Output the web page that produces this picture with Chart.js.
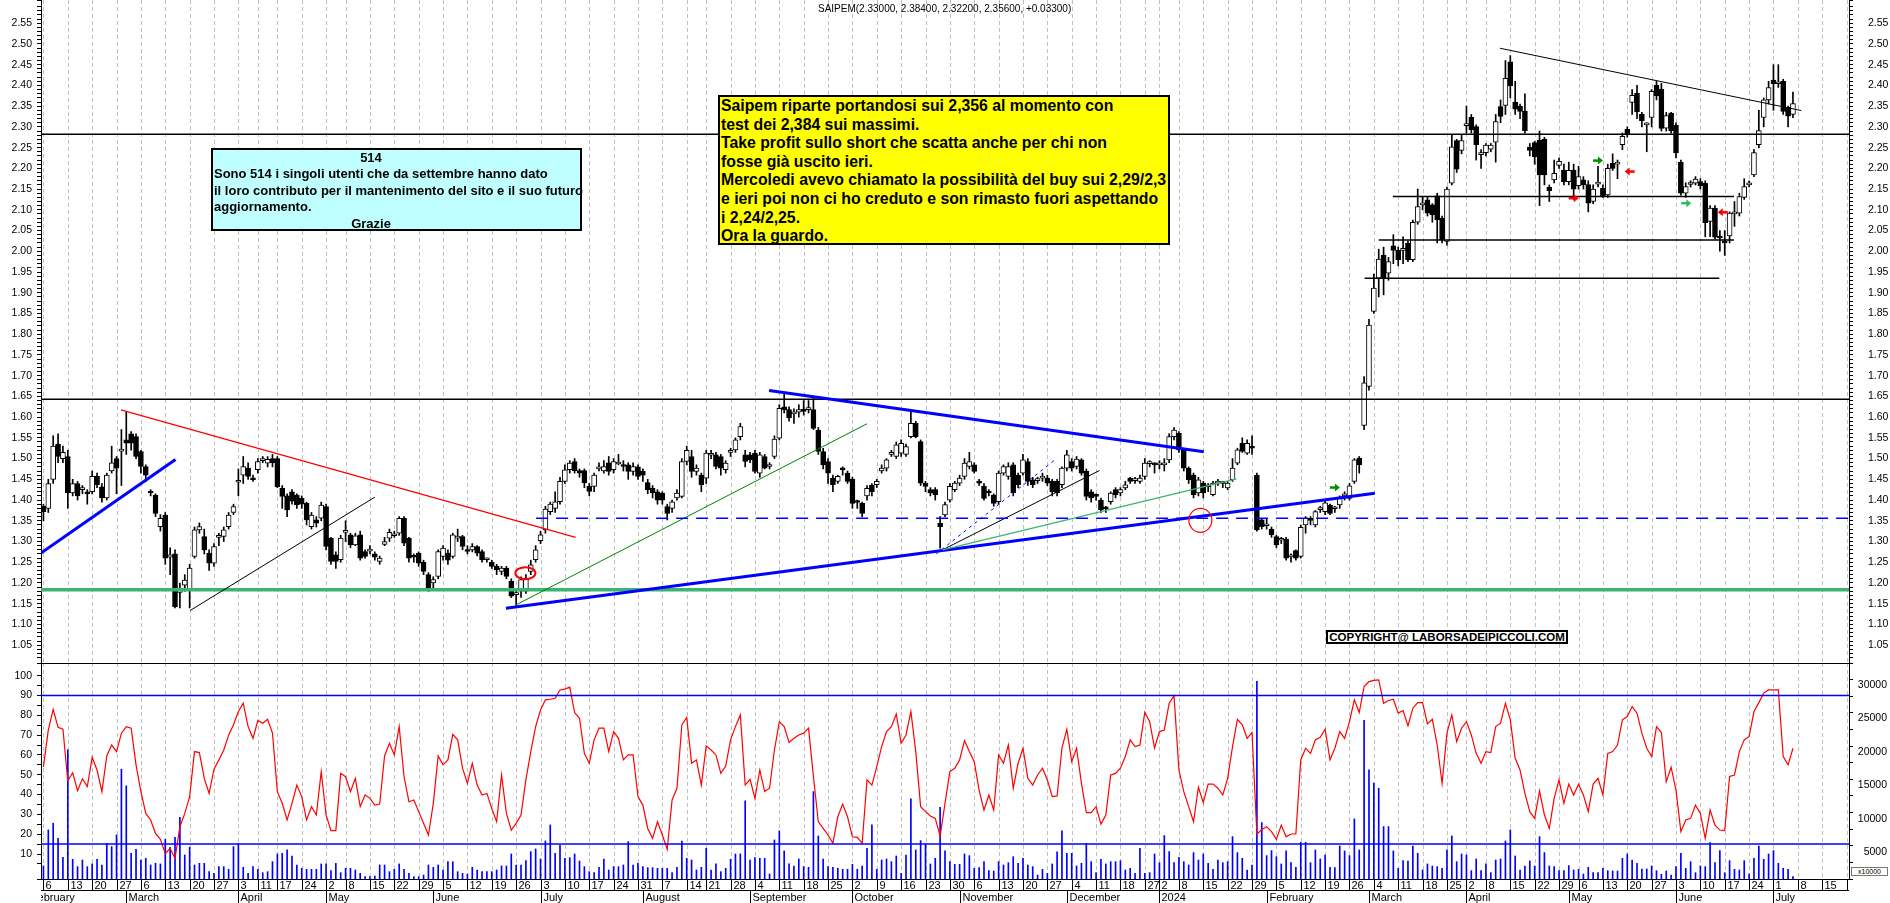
<!DOCTYPE html>
<html>
<head>
<meta charset="utf-8">
<script src="https://cdn.jsdelivr.net/npm/chart.js@4.4.1/dist/chart.umd.min.js"></script>
<style>
  body { margin: 0; background: #fff; }
  #wrap { position: relative; width: 1890px; height: 903px; overflow: hidden; font-family: 'Liberation Sans', Arial, sans-serif; color: #000; }
  #priceChart { position: absolute; left: 0; top: 0; width: 1890px; height: 663px; }
  #oscChart { position: absolute; left: 0; top: 663px; width: 1890px; height: 240px; }
  .title { position: absolute; left: 818px; top: 3px; font-size: 10px; line-height: 12px; white-space: nowrap; }
  .note { position: absolute; border: 2px solid #000; box-sizing: border-box; white-space: nowrap; }
  .cyan { left: 211px; top: 148px; width: 371px; height: 83px; background: #c0ffff; font: bold 13px 'Liberation Sans', Arial, sans-serif; line-height: 16.4px; padding-left: 1px; }
  .cyan .c { text-align: center; padding-right: 52px; }
  .yellow { left: 718px; top: 95px; width: 452px; height: 150px; background: #ffff00; font: bold 15.8px 'Liberation Sans', Arial, sans-serif; line-height: 18.6px; padding-left: 1px; }
  .copy { left: 1326px; top: 630px; width: 242px; height: 14px; background: #fff; font: bold 11.5px 'Liberation Sans', Arial, sans-serif; line-height: 10px; text-align: center; }
  .unit { position: absolute; left: 1851px; top: 867px; width: 37px; height: 9px; border: 1px solid #777; box-sizing: border-box; font-size: 7px; line-height: 7px; text-align: center; background: #fff; }
</style>
</head>
<body>
<div id="wrap">
  <canvas id="priceChart" width="1890" height="663"></canvas>
  <canvas id="oscChart" width="1890" height="240"></canvas>
  <div class="title">SAIPEM(2.33000, 2.38400, 2.32200, 2.35600, +0.03300)</div>
  <div class="note cyan">
    <div class="c">514</div>
    <div>Sono 514 i singoli utenti che da settembre hanno dato</div>
    <div>il loro contributo per il mantenimento del sito e il suo futuro</div>
    <div>aggiornamento.</div>
    <div class="c">Grazie</div>
  </div>
  <div class="note yellow">
    <div>Saipem riparte portandosi sui 2,356 al momento con</div>
    <div>test dei 2,384 sui massimi.</div>
    <div>Take profit sullo short che scatta anche per chi non</div>
    <div>fosse già uscito ieri.</div>
    <div>Mercoledi avevo chiamato la possibilità del buy sui 2,29/2,3</div>
    <div>e ieri poi non ci ho creduto e son rimasto fuori aspettando</div>
    <div>i 2,24/2,25.</div>
    <div>Ora la guardo.</div>
  </div>
  <div class="note copy">COPYRIGHT@ LABORSADEIPICCOLI.COM</div>
  <div class="unit">x10000</div>
</div>

<script>
// trading calendar (Borsa Italiana), first session 6 Feb 2023, axis runs to 22 Jul 2024
const FIRST_DAY = '2023-02-06';
const LAST_DAY = '2024-07-22';
const HOLIDAYS = ['2023-04-07', '2023-04-10', '2023-05-01', '2023-08-15', '2023-12-25', '2023-12-26',
                  '2024-01-01', '2024-03-29', '2024-04-01', '2024-05-01'];
const MONTHS = ['January', 'February', 'March', 'April', 'May', 'June', 'July', 'August', 'September', 'October', 'November', 'December'];
const VOL_TICKS = [5000, 10000, 15000, 20000, 25000, 30000];

// daily candles, SAIPEM
const OPEN = [
  1.385,1.38,1.45,1.535,1.50,1.505,1.417,1.44,1.425,1.42,
  1.42,1.457,1.432,1.405,1.47,1.50,1.518,1.545,1.56,1.553,
  1.517,1.481,1.42,1.412,1.336,1.364,1.262,1.27,1.177,1.195,
  1.184,1.264,1.328,1.312,1.272,1.248,1.31,1.312,1.336,1.37,
  1.443,1.46,1.477,1.453,1.473,1.495,1.489,1.50,1.50,1.428,
  1.41,1.42,1.412,1.404,1.392,1.336,1.352,1.356,1.384,1.308,
  1.268,1.256,1.322,1.316,1.292,1.316,1.276,1.277,1.27,1.252,
  1.293,1.308,1.314,1.32,1.356,1.308,1.265,1.272,1.25,1.22,
  1.20,1.216,1.264,1.272,1.264,1.308,1.312,1.28,1.28,1.288,
  1.276,1.256,1.25,1.24,1.228,1.236,1.204,1.172,1.18,1.18,
  1.228,1.256,1.302,1.328,1.372,1.38,1.396,1.445,1.473,1.493,
  1.471,1.471,1.433,1.433,1.475,1.47,1.49,1.473,1.487,1.485,
  1.485,1.469,1.48,1.47,1.442,1.428,1.42,1.417,1.384,1.38,
  1.405,1.409,1.493,1.505,1.469,1.46,1.453,1.508,1.509,1.505,
  1.473,1.515,1.521,1.553,1.509,1.509,1.513,1.465,1.505,1.481,
  1.505,1.549,1.625,1.618,1.608,1.612,1.618,1.618,1.618,1.569,
  1.517,1.493,1.453,1.445,1.475,1.465,1.45,1.397,1.392,1.41,
  1.436,1.437,1.47,1.477,1.51,1.505,1.513,1.51,1.553,1.585,
  1.541,1.441,1.425,1.425,1.344,1.364,1.40,1.425,1.441,1.457,
  1.481,1.485,1.443,1.433,1.419,1.412,1.396,1.465,1.457,1.485,
  1.46,1.465,1.493,1.449,1.447,1.453,1.453,1.445,1.445,1.437,
  1.477,1.493,1.481,1.497,1.469,1.42,1.411,1.40,1.382,1.396,
  1.425,1.417,1.429,1.453,1.447,1.445,1.457,1.488,1.489,1.485,
  1.485,1.497,1.553,1.561,1.521,1.477,1.46,1.417,1.441,1.432,
  1.413,1.441,1.442,1.429,1.449,1.489,1.537,1.513,1.529,1.46,
  1.352,1.338,1.33,1.312,1.303,1.306,1.263,1.278,1.264,1.34,
  1.353,1.34,1.377,1.372,1.388,1.379,1.388,1.41,1.404,1.445,
  1.501,1.58,1.674,1.855,1.935,1.991,1.947,2.013,2.002,2.002,
  2.02,1.98,2.07,2.112,2.124,2.112,2.134,2.08,2.024,2.164,
  2.267,2.243,2.303,2.323,2.301,2.233,2.238,2.246,2.263,2.349,
  2.352,2.457,2.36,2.35,2.338,2.251,2.262,2.268,2.27,2.154,
  2.172,2.207,2.196,2.168,2.196,2.158,2.172,2.161,2.12,2.162,
  2.152,2.136,2.212,2.21,2.257,2.294,2.359,2.381,2.331,2.305,
  2.323,2.40,2.391,2.297,2.333,2.304,2.215,2.14,2.161,2.164,
  2.168,2.164,2.072,2.104,2.034,2.022,2.037,2.09,2.092,2.13,
  2.16,2.184,2.257,2.323,2.365,2.413,2.404,2.41,2.347,2.33
];
const HIGH = [
  1.39,1.45,1.555,1.56,1.53,1.52,1.45,1.445,1.435,1.425,
  1.47,1.465,1.44,1.465,1.53,1.505,1.57,1.612,1.565,1.56,
  1.52,1.485,1.425,1.415,1.365,1.37,1.285,1.28,1.20,1.22,
  1.245,1.335,1.345,1.33,1.28,1.295,1.32,1.335,1.37,1.39,
  1.475,1.505,1.49,1.46,1.50,1.505,1.505,1.51,1.505,1.435,
  1.415,1.425,1.415,1.41,1.395,1.37,1.36,1.395,1.39,1.31,
  1.275,1.315,1.35,1.32,1.32,1.325,1.28,1.29,1.275,1.265,
  1.31,1.33,1.325,1.36,1.36,1.31,1.27,1.275,1.255,1.225,
  1.215,1.28,1.29,1.28,1.32,1.33,1.315,1.29,1.295,1.29,
  1.28,1.26,1.255,1.245,1.24,1.24,1.21,1.18,1.215,1.22,
  1.255,1.29,1.325,1.385,1.395,1.42,1.455,1.485,1.495,1.50,
  1.475,1.475,1.44,1.465,1.49,1.495,1.505,1.50,1.51,1.495,
  1.49,1.49,1.485,1.475,1.45,1.435,1.425,1.42,1.39,1.40,
  1.425,1.50,1.53,1.52,1.485,1.465,1.52,1.52,1.515,1.51,
  1.495,1.525,1.55,1.585,1.52,1.515,1.52,1.515,1.51,1.49,
  1.555,1.63,1.658,1.625,1.62,1.63,1.64,1.64,1.645,1.575,
  1.525,1.50,1.46,1.46,1.48,1.47,1.455,1.40,1.395,1.435,
  1.44,1.45,1.485,1.50,1.52,1.54,1.545,1.535,1.617,1.59,
  1.545,1.445,1.43,1.43,1.36,1.395,1.44,1.445,1.46,1.50,
  1.515,1.49,1.45,1.44,1.425,1.415,1.47,1.485,1.49,1.49,
  1.465,1.51,1.50,1.455,1.455,1.465,1.46,1.45,1.45,1.48,
  1.52,1.50,1.505,1.50,1.475,1.425,1.415,1.405,1.385,1.42,
  1.43,1.43,1.445,1.455,1.455,1.46,1.50,1.495,1.49,1.495,
  1.50,1.56,1.575,1.565,1.525,1.48,1.465,1.455,1.445,1.44,
  1.445,1.45,1.445,1.445,1.50,1.525,1.55,1.545,1.555,1.465,
  1.355,1.355,1.335,1.315,1.31,1.31,1.27,1.28,1.34,1.36,
  1.36,1.375,1.385,1.40,1.39,1.385,1.41,1.42,1.44,1.50,
  1.505,1.698,1.836,1.945,2.005,2.01,1.985,2.04,2.01,2.035,
  2.025,2.075,2.15,2.13,2.13,2.115,2.14,2.085,2.155,2.28,
  2.27,2.28,2.35,2.33,2.305,2.245,2.26,2.26,2.33,2.365,
  2.46,2.472,2.41,2.355,2.38,2.26,2.265,2.29,2.275,2.16,
  2.22,2.225,2.21,2.215,2.21,2.205,2.18,2.17,2.16,2.205,
  2.16,2.21,2.235,2.22,2.285,2.30,2.39,2.40,2.335,2.31,
  2.39,2.41,2.405,2.335,2.335,2.31,2.22,2.165,2.17,2.18,
  2.175,2.17,2.11,2.11,2.05,2.05,2.095,2.12,2.14,2.175,
  2.17,2.245,2.34,2.37,2.41,2.45,2.45,2.415,2.35,2.384
];
const LOW = [
  1.35,1.37,1.44,1.49,1.49,1.38,1.41,1.40,1.415,1.39,
  1.415,1.43,1.395,1.40,1.465,1.415,1.435,1.51,1.52,1.50,
  1.465,1.445,1.41,1.36,1.325,1.245,1.22,1.14,1.14,1.18,
  1.14,1.26,1.32,1.27,1.23,1.24,1.29,1.30,1.33,1.365,
  1.41,1.44,1.45,1.445,1.465,1.49,1.48,1.48,1.43,1.38,
  1.36,1.39,1.38,1.38,1.34,1.33,1.335,1.35,1.28,1.245,
  1.235,1.25,1.30,1.285,1.29,1.255,1.26,1.27,1.255,1.245,
  1.29,1.30,1.31,1.315,1.29,1.25,1.25,1.24,1.22,1.18,
  1.185,1.21,1.255,1.245,1.26,1.30,1.28,1.27,1.275,1.265,
  1.25,1.25,1.235,1.22,1.22,1.21,1.165,1.146,1.165,1.175,
  1.22,1.25,1.295,1.32,1.365,1.37,1.39,1.44,1.465,1.465,
  1.455,1.43,1.41,1.42,1.47,1.465,1.46,1.465,1.485,1.47,
  1.45,1.46,1.45,1.445,1.415,1.405,1.39,1.39,1.352,1.37,
  1.40,1.405,1.485,1.455,1.46,1.42,1.44,1.50,1.475,1.46,
  1.465,1.505,1.515,1.545,1.48,1.49,1.465,1.455,1.475,1.475,
  1.50,1.545,1.61,1.59,1.585,1.60,1.605,1.61,1.57,1.51,
  1.475,1.44,1.42,1.44,1.46,1.44,1.38,1.38,1.36,1.40,
  1.41,1.43,1.465,1.47,1.505,1.50,1.505,1.505,1.55,1.55,
  1.435,1.42,1.41,1.40,1.284,1.36,1.395,1.42,1.435,1.45,
  1.475,1.465,1.435,1.40,1.41,1.385,1.39,1.46,1.45,1.41,
  1.43,1.46,1.435,1.43,1.44,1.445,1.435,1.41,1.41,1.43,
  1.47,1.47,1.475,1.46,1.40,1.395,1.40,1.37,1.37,1.39,
  1.405,1.41,1.425,1.44,1.44,1.44,1.45,1.48,1.465,1.475,
  1.47,1.49,1.545,1.515,1.47,1.44,1.405,1.41,1.405,1.42,
  1.41,1.435,1.43,1.425,1.445,1.485,1.515,1.51,1.51,1.325,
  1.33,1.33,1.31,1.285,1.295,1.255,1.25,1.255,1.26,1.32,
  1.34,1.335,1.37,1.365,1.365,1.37,1.38,1.40,1.40,1.44,
  1.465,1.57,1.665,1.85,1.89,1.895,1.93,1.97,1.965,1.97,
  1.975,1.975,2.065,2.10,2.085,2.07,2.02,2.02,2.015,2.16,
  2.19,2.235,2.285,2.285,2.22,2.20,2.23,2.24,2.215,2.31,
  2.33,2.37,2.33,2.32,2.285,2.23,2.21,2.11,2.16,2.12,
  2.165,2.20,2.16,2.16,2.125,2.15,2.15,2.095,2.115,2.155,
  2.13,2.13,2.195,2.175,2.245,2.275,2.33,2.32,2.30,2.24,
  2.30,2.365,2.29,2.29,2.285,2.225,2.135,2.13,2.155,2.16,
  2.15,2.035,2.035,2.03,2.00,1.99,2.02,2.06,2.085,2.125,
  2.155,2.18,2.25,2.30,2.355,2.34,2.395,2.33,2.30,2.322
];
const CLOSE = [
  1.372,1.44,1.53,1.505,1.515,1.417,1.44,1.41,1.428,1.415,
  1.457,1.437,1.405,1.46,1.49,1.477,1.522,1.537,1.537,1.505,
  1.481,1.46,1.417,1.368,1.356,1.26,1.268,1.143,1.184,1.207,
  1.236,1.328,1.336,1.28,1.248,1.288,1.315,1.328,1.364,1.384,
  1.445,1.481,1.457,1.449,1.493,1.497,1.498,1.49,1.432,1.409,
  1.376,1.397,1.388,1.39,1.352,1.364,1.344,1.388,1.288,1.252,
  1.252,1.308,1.326,1.292,1.314,1.26,1.264,1.279,1.262,1.26,
  1.30,1.322,1.317,1.356,1.296,1.26,1.262,1.248,1.228,1.188,
  1.208,1.276,1.284,1.255,1.316,1.311,1.288,1.276,1.288,1.272,
  1.256,1.258,1.24,1.232,1.236,1.216,1.168,1.175,1.208,1.212,
  1.244,1.28,1.316,1.378,1.39,1.396,1.445,1.473,1.489,1.471,
  1.465,1.442,1.421,1.46,1.477,1.481,1.469,1.493,1.49,1.481,
  1.469,1.481,1.457,1.46,1.425,1.417,1.40,1.40,1.368,1.396,
  1.417,1.493,1.52,1.469,1.477,1.437,1.513,1.511,1.481,1.477,
  1.489,1.517,1.545,1.577,1.493,1.497,1.469,1.509,1.477,1.483,
  1.547,1.621,1.618,1.598,1.612,1.618,1.614,1.622,1.573,1.517,
  1.485,1.465,1.437,1.457,1.473,1.445,1.392,1.394,1.368,1.428,
  1.42,1.445,1.477,1.497,1.513,1.533,1.537,1.529,1.585,1.553,
  1.441,1.433,1.417,1.413,1.336,1.389,1.433,1.441,1.453,1.489,
  1.493,1.469,1.441,1.404,1.417,1.392,1.465,1.481,1.481,1.417,
  1.437,1.497,1.445,1.437,1.449,1.458,1.441,1.42,1.417,1.477,
  1.509,1.477,1.499,1.465,1.409,1.405,1.409,1.376,1.379,1.417,
  1.413,1.425,1.437,1.445,1.45,1.453,1.489,1.49,1.485,1.489,
  1.49,1.553,1.569,1.521,1.477,1.449,1.413,1.449,1.417,1.434,
  1.441,1.445,1.44,1.441,1.477,1.521,1.517,1.537,1.525,1.328,
  1.336,1.341,1.316,1.292,1.305,1.26,1.265,1.26,1.334,1.356,
  1.351,1.372,1.379,1.393,1.368,1.381,1.404,1.412,1.434,1.497,
  1.485,1.683,1.822,1.911,1.981,1.935,1.975,2.002,1.98,2.005,
  1.98,2.07,2.108,2.114,2.092,2.088,2.076,2.028,2.15,2.252,
  2.198,2.267,2.305,2.293,2.257,2.236,2.256,2.256,2.313,2.325,
  2.417,2.399,2.343,2.337,2.291,2.243,2.228,2.184,2.184,2.146,
  2.188,2.217,2.168,2.195,2.15,2.18,2.16,2.116,2.15,2.165,
  2.134,2.20,2.20,2.214,2.277,2.283,2.376,2.336,2.315,2.307,
  2.386,2.375,2.296,2.327,2.291,2.237,2.14,2.156,2.163,2.174,
  2.158,2.069,2.104,2.034,2.032,2.02,2.092,2.093,2.132,2.156,
  2.162,2.238,2.291,2.365,2.395,2.404,2.407,2.337,2.326,2.356
];

// lower panel: oscillator (left scale) and volume (right scale, x10000)
const OSC = [
  54,72.6,83,74,73,47,51,42,48,44,
  58.8,52.4,41.5,59.5,65,61.7,71,74.3,73.5,55,
  41.5,30.5,27.2,20.4,17.4,10.3,12.8,7.8,23.8,30.5,
  39,61.7,61.2,48.2,40.6,52.8,57.5,62.5,70,75.2,
  81.9,86.1,74.3,68.4,77.4,76,78,71,41.5,35.6,
  27.2,35.6,44.8,39,27.2,33.9,29.7,51.6,29.7,21.8,
  21.8,50.7,49,41.5,48.2,33.9,39.8,38.1,34.7,35.2,
  59.5,65.9,60,74.3,49,36.4,37.3,31.4,25.5,19.6,
  35.6,59.5,55,57.5,70.4,67.6,53.3,45.7,55.8,44.8,
  39.8,40.6,33,26.3,49.9,30.5,22.1,25.5,29.7,47.4,
  61.7,74.3,82.7,87.8,88.1,88.6,92.8,93.2,94.2,81.4,
  78.5,60.8,55.8,67.6,73.5,73.5,61.7,71.8,68.4,57.5,
  60,60,39,34.7,22.9,17.9,26.3,19.6,12.3,37.3,
  43.2,75.2,78.9,55.8,57.5,44.8,64.6,62.5,60,50.7,
  54.4,67.6,74.3,80.2,44.8,47.7,38.1,52.4,41.5,43.2,
  62.5,76.8,74.3,66.3,68.4,70.1,71,73.5,49.1,26.3,
  22.9,19.6,15.4,28.8,35.2,28.8,18.7,18.4,15.4,47.4,
  44.8,54.1,64.2,71.8,74.3,80.7,65.9,70.1,81.9,61.7,
  33.9,31.4,29.2,28,19.1,35.6,51.6,53.3,57.5,67.3,
  61.7,56.6,42.3,32.2,39.8,32.2,60,55.8,65,43.2,
  55.8,63.4,48.2,44.8,49.9,53.3,47.4,39,39.3,63.4,
  73,56.6,63.4,45.7,30.9,30.9,33.9,25.1,29.7,49.9,
  50.7,53.3,59.2,67.6,64.2,65,81.6,76.8,63.4,71.8,
  72.6,86.1,89.8,52.4,41.5,33.9,26.3,43.7,35.9,45.3,
  45.3,43.2,39.8,48.2,64.2,78,75.2,68.4,71.3,20,
  22.4,23.8,21.3,17.4,24.6,18.7,20.1,20.1,57.5,63.4,
  60.8,67.6,68.9,73,57.5,63.4,71.8,68.4,76.8,87.8,
  81.4,94.5,97,97.6,97.9,86.1,87.5,88.1,81.1,82.4,
  74.7,83.6,86.4,86.4,75.7,78,65,45.7,71,80.2,
  66.7,73.5,76.8,70.1,60.8,55.8,61.7,61.2,74.3,76,
  86.1,77.7,58.3,52.4,40.6,31.4,28,41.8,29.7,22.9,
  38.1,47.4,35.6,45.3,39.8,45.2,39.8,31.4,45.3,48.2,
  39.8,60.8,61.7,65,77.7,79.4,84.4,81.1,71,63.4,
  59.2,74.3,71.3,46.5,53.8,42.3,21.3,27.2,28,34.7,
  30.5,17.9,32.2,24.6,22.1,21.8,49.1,49.9,61.7,67.6,
  69.3,81.9,86.4,91.2,92.8,92.8,92.8,59.2,55,63.4
];
const VOLUME = [
  2960,8335,9330,7090,4250,20290,3950,2860,3850,2860,
  3260,3950,3110,6340,5845,7590,17400,14910,4850,5450,
  3850,4100,3110,3360,3260,6940,5750,7240,10230,4600,
  5750,3110,3360,3360,2110,1860,2860,2860,2460,5845,
  6340,2760,1860,2860,2460,1960,2110,3600,4750,4850,
  5350,4450,3110,2610,2460,2460,2460,3260,3260,2260,
  3360,1960,2610,2610,2360,1860,1360,1360,1460,3110,
  3110,2110,2460,3260,2460,1860,1360,1360,1610,3110,
  2760,3110,2360,3600,3600,2110,1860,1760,2760,2360,
  2110,2110,2110,2360,2960,2960,4750,3110,3110,3750,
  5100,5500,4000,6690,9080,4850,6040,4100,4200,4750,
  3700,2860,2110,1960,2760,4000,2360,2860,2860,3110,
  6590,3110,3360,2860,2710,2710,2610,2610,2610,1960,
  2760,6690,4100,3850,2360,2760,5600,2360,3260,2110,
  2610,3950,4750,4750,12670,3850,4200,4100,4100,1760,
  6840,8190,5200,3260,2960,4000,2860,2760,14060,7440,
  4000,2860,2760,2610,2460,2460,3210,2460,2960,5600,
  9080,2460,3850,4000,3600,4450,1860,4600,12970,5350,
  6740,6240,3260,4100,11720,5200,3600,3210,3210,4750,
  4500,2610,2710,3600,2260,2210,3600,3110,3450,4350,
  3360,4100,3110,2860,1610,2460,1860,3260,5050,8190,
  4850,4850,2960,3360,6340,3600,1960,3950,3260,3600,
  3600,3750,2360,2610,1860,5600,1860,1960,4750,3450,
  7490,5100,3450,4250,3600,3110,4950,3850,4750,3360,
  2460,3850,3450,3600,7340,4950,4100,2360,3110,30500,
  9430,4500,5250,4350,3260,5200,3450,2760,6490,6490,
  3450,5350,4000,4600,2760,2710,5940,5200,4500,9980,
  5350,24670,17300,15310,14560,8830,8830,5200,2610,3750,
  3700,5940,4850,2360,3260,2960,2860,2610,5350,7440,
  3600,4750,4600,2260,4000,2260,3260,1960,3850,4000,
  6690,8340,4450,2360,2960,3700,2960,7340,4950,2960,
  2860,2260,2260,3010,2360,2460,1760,2760,1960,1960,
  2610,2260,2210,2210,4100,4750,3850,3360,2510,2510,
  2960,2260,1710,2210,1610,2860,4850,2610,3600,1960,
  2960,2860,6440,3450,5250,1960,3750,2460,2360,3750,
  1760,4100,5940,3950,4750,5250,3360,2610,2460,1360
];

// drawn studies, in (session index, price) coordinates
const LEVELS = [[2.282, 'level'], [1.643, 'level'], [1.1835, 'support']];
const TRENDS = [
  [-0.5, 1.272, 27.1, 1.498, 'blue'],
  [15.9, 1.6175, 109.2, 1.3097, 'red'],
  [30.1, 1.1336, 68.0, 1.407, 'black'],
  [97.0, 1.1473, 169.0, 1.584, 'green'],
  [94.9, 1.1393, 273.2, 1.4166, 'blue'],
  [148.9, 1.664, 238.1, 1.5163, 'blue'],
  [183.2, 1.2702, 208.0, 1.501, 'bluedot'],
  [184.5, 1.2799, 216.7, 1.4712, 'black'],
  [184.5, 1.28, 244.8, 1.4511, 'seagreen'],
  [101.1, 1.356, 370.5, 1.356, 'bluedash'],
  [298.9, 2.4896, 360.7, 2.3393, 'black'],
  [276.9, 2.132, 346.9, 2.132, 'segment'],
  [274.0, 2.0274, 346.9, 2.0274, 'segment'],
  [271.1, 1.935, 343.9, 1.935, 'segment']
];
const RINGS = [[98.9, 1.2236, 10, 6, 2], [237.4, 1.351, 11.5, 12, 1.2]];
const ARROWS = [
  [319.0, 2.2187, 1, '#009000'], [325.5, 2.1922, -1, '#ff0000'], [314.0, 2.128, 1, '#ff0000'],
  [337.1, 2.116, 1, '#33bb66'], [344.6, 2.094, -1, '#ff0000'], [265.0, 1.4302, 1, '#009000']
];
const OSC_BANDS = [90, 15];

const LINE_STYLES = {
  level: { color: '#000000', width: 1.5 },
  support: { color: '#3cb371', width: 3.5 },
  black: { color: '#000000', width: 1 },
  segment: { color: '#000000', width: 1.5 },
  blue: { color: '#0000ff', width: 3 },
  red: { color: '#ff0000', width: 1.3 },
  green: { color: '#008000', width: 1 },
  seagreen: { color: '#3cb371', width: 1.2 },
  bluedot: { color: '#0000ff', width: 1, dash: [3, 4] },
  bluedash: { color: '#0000ff', width: 1.5, dash: [12, 8] },
  week: { color: '#c0c0c0', width: 1, dash: [4, 3] }
};

// build the session list from the calendar
const days = [];
(function () {
  const d = new Date(FIRST_DAY + 'T00:00:00Z');
  const end = new Date(LAST_DAY + 'T00:00:00Z');
  while (d <= end) {
    const key = d.toISOString().slice(0, 10);
    const dow = d.getUTCDay();
    if (dow > 0 && dow < 6 && !HOLIDAYS.includes(key)) days.push(key);
    d.setUTCDate(d.getUTCDate() + 1);
  }
})();
const toDate = s => new Date(s + 'T00:00:00Z');
const weekStart = days.map((s, i) => {
  if (i === 0) return true;
  const a = toDate(days[i - 1]), b = toDate(s);
  return b.getUTCDay() <= a.getUTCDay() || (b - a) >= 7 * 864e5;
});
const monthStart = days.map((s, i) => i === 0 || s.slice(5, 7) !== days[i - 1].slice(5, 7));

Chart.defaults.font.family = "'Liberation Sans', Arial, sans-serif";
Chart.defaults.font.size = 10.5;
Chart.defaults.color = '#000';

const fixWidth = w => s => { s.width = w; s.paddingTop = 0; s.paddingBottom = 0; };
const isStep = (v, step) => Math.abs(v / step - Math.round(v / step)) < 1e-6;

function xScale(height) {
  return {
    offset: true,
    ticks: { display: false, autoSkip: false },
    grid: { display: false },
    border: { display: false },
    afterFit: s => { s.height = height; s.paddingLeft = 0; s.paddingRight = 0; }
  };
}
function yScale(pos, min, max, step, label, pad) {
  return {
    position: pos, min: min, max: max,
    ticks: { stepSize: step, autoSkip: false, padding: pad, callback: label },
    grid: { drawOnChartArea: false, tickLength: 4, tickColor: '#000' },
    border: { color: '#000', width: 1 },
    afterFit: fixWidth(41)
  };
}

const priceLabel = v => (isStep(v, 0.05) && v > 1.04 && v < 2.56) ? v.toFixed(2) : '';

function strokeLine(ctx, x1, y1, x2, y2, st) {
  ctx.save();
  ctx.strokeStyle = st.color; ctx.lineWidth = st.width;
  ctx.setLineDash(st.dash || []);
  ctx.beginPath(); ctx.moveTo(x1, y1); ctx.lineTo(x2, y2); ctx.stroke();
  ctx.restore();
}

// weekly dashed grid, one line per first session of the week
const weekGrid = {
  id: 'weekGrid',
  beforeDatasetsDraw(chart) {
    const { ctx, chartArea: a, scales: { x } } = chart;
    days.forEach((s, i) => {
      if (!weekStart[i]) return;
      const px = Math.round(x.getPixelForValue(i)) + 0.5;
      strokeLine(ctx, px, a.top, px, a.bottom, LINE_STYLES.week);
    });
  }
};

const priceOverlay = {
  id: 'priceOverlay',
  afterDatasetsDraw(chart) {
    const { ctx, chartArea: a, scales: { x, y } } = chart;
    ctx.save();
    ctx.beginPath(); ctx.rect(a.left, a.top, a.right - a.left, a.bottom - a.top); ctx.clip();
    LEVELS.forEach(([p, s]) => {
      const py = y.getPixelForValue(p);
      strokeLine(ctx, a.left, py, a.right, py, LINE_STYLES[s]);
    });
    TRENDS.forEach(([i1, p1, i2, p2, s]) => {
      strokeLine(ctx, x.getPixelForValue(i1), y.getPixelForValue(p1), x.getPixelForValue(i2), y.getPixelForValue(p2), LINE_STYLES[s]);
    });
    RINGS.forEach(([i, p, rx, ry, w]) => {
      ctx.strokeStyle = '#ff0000'; ctx.lineWidth = w;
      ctx.beginPath(); ctx.ellipse(x.getPixelForValue(i), y.getPixelForValue(p), rx, ry, 0, 0, Math.PI * 2); ctx.stroke();
    });
    ARROWS.forEach(([i, p, dir, col]) => {
      const cx = x.getPixelForValue(i), cy = y.getPixelForValue(p);
      ctx.strokeStyle = col; ctx.fillStyle = col; ctx.lineWidth = 2.5;
      ctx.beginPath(); ctx.moveTo(cx - 5 * dir, cy); ctx.lineTo(cx + dir, cy); ctx.stroke();
      ctx.beginPath(); ctx.moveTo(cx + 5 * dir, cy); ctx.lineTo(cx, cy - 4); ctx.lineTo(cx, cy + 4); ctx.closePath(); ctx.fill();
    });
    ctx.restore();
  }
};

new Chart(document.getElementById('priceChart'), {
  type: 'bar',
  data: {
    labels: days,
    datasets: [
      {
        label: 'range',
        data: HIGH.map((h, i) => [LOW[i], h]),
        backgroundColor: '#000', barThickness: 1, grouped: false, order: 2
      },
      {
        label: 'body',
        data: OPEN.map((o, i) => [o, CLOSE[i]]),
        backgroundColor: c => CLOSE[c.dataIndex] >= OPEN[c.dataIndex] ? '#ffffff' : '#000000',
        borderColor: '#000', borderWidth: 1, borderSkipped: false,
        barThickness: 5, minBarLength: 2, grouped: false, order: 1
      }
    ]
  },
  options: {
    responsive: false, animation: false,
    layout: { padding: 0 },
    plugins: { legend: { display: false }, tooltip: { enabled: false } },
    scales: {
      x: xScale(0),
      y: yScale('left', 1.007, 2.606, 0.01, priceLabel, 5),
      yR: yScale('right', 1.007, 2.606, 0.01, priceLabel, 15)
    }
  },
  plugins: [weekGrid, priceOverlay]
});

const dateAxis = {
  id: 'dateAxis',
  afterDraw(chart) {
    const { ctx, chartArea: a, scales: { x, osc, vol } } = chart;
    const base = Math.round(a.bottom) + 0.5;
    ctx.save();
    // bands of the oscillator
    OSC_BANDS.forEach(v => {
      const py = osc.getPixelForValue(v);
      strokeLine(ctx, a.left, py, a.right, py, { color: '#0000ff', width: 1.5 });
    });
    // volume scale labels, right-aligned on the right margin
    ctx.fillStyle = '#000';
    ctx.font = "10.5px 'Liberation Sans', Arial, sans-serif";
    ctx.textAlign = 'right'; ctx.textBaseline = 'middle';
    VOL_TICKS.forEach(v => {
      const py = vol.getPixelForValue(v);
      ctx.fillText(String(v), chart.width - 3, py);
    });
    strokeLine(ctx, a.left, a.top + 0.5, a.right, a.top + 0.5, { color: '#000', width: 1 });
    strokeLine(ctx, a.left, base, a.right, base, { color: '#000', width: 1 });
    strokeLine(ctx, a.left, base + 11, a.right, base + 11, { color: '#000', width: 1 });
    ctx.beginPath(); ctx.rect(a.left, a.bottom, a.right - a.left, 30); ctx.clip();
    ctx.font = "11px 'Liberation Sans', Arial, sans-serif";
    ctx.textAlign = 'left';
    days.forEach((s, i) => {
      const px = Math.round(x.getPixelForValue(i)) + 0.5;
      if (weekStart[i]) {
        strokeLine(ctx, px, base, px, base + 11, { color: '#000', width: 1 });
        ctx.textBaseline = 'middle';
        ctx.fillText(String(+s.slice(8, 10)), px + 2, base + 6);
      }
      if (monthStart[i]) {
        const m = +s.slice(5, 7) - 1;
        const text = m === 0 ? s.slice(0, 4) : MONTHS[m];
        let lx = px;
        if (i === 0) {
          // month began before the first session shown
          const first = toDate(s.slice(0, 8) + '01');
          let n = 0;
          for (let d = new Date(first); d < toDate(s); d.setUTCDate(d.getUTCDate() + 1)) {
            if (d.getUTCDay() > 0 && d.getUTCDay() < 6) n++;
          }
          lx = x.getPixelForValue(i - n);
        } else {
          strokeLine(ctx, px, base + 11, px, base + 30, { color: '#000', width: 1 });
        }
        ctx.textBaseline = 'top';
        ctx.fillText(text, lx + 2, base + 13);
      }
    });
    ctx.restore();
  }
};

new Chart(document.getElementById('oscChart'), {
  type: 'bar',
  data: {
    labels: days,
    datasets: [
      {
        type: 'line', label: 'oscillator', data: OSC, yAxisID: 'osc',
        borderColor: '#ff0000', borderWidth: 1.2, pointRadius: 0, tension: 0, order: 0
      },
      {
        type: 'bar', label: 'volume', data: VOLUME, yAxisID: 'vol',
        backgroundColor: '#0000ff', barThickness: 1, order: 1
      }
    ]
  },
  options: {
    responsive: false, animation: false,
    layout: { padding: 0 },
    plugins: { legend: { display: false }, tooltip: { enabled: false } },
    scales: {
      x: xScale(24),
      osc: yScale('left', -2.6, 106.4, 5, v => (isStep(v, 10) && v >= 10 && v <= 100) ? String(Math.round(v)) : '', 5),
      vol: yScale('right', 1015, 33240, 2500, () => '', 6)
    }
  },
  plugins: [weekGrid, dateAxis]
});
</script>
</body>
</html>
